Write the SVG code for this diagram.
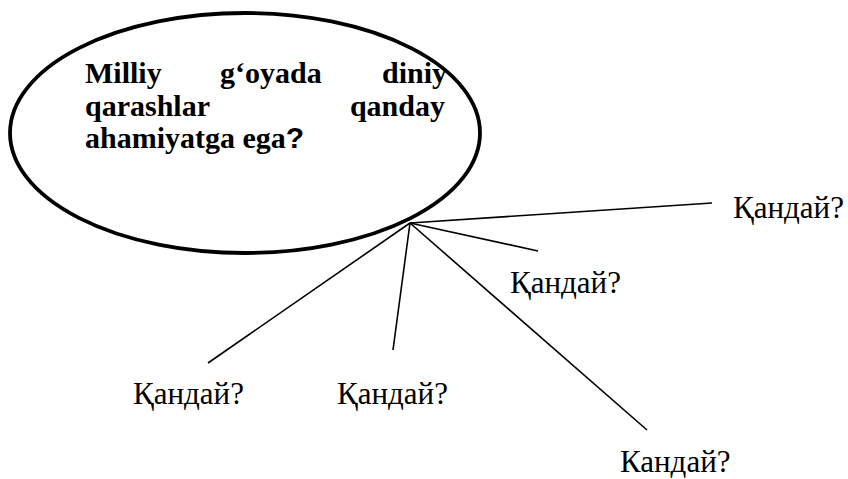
<svg xmlns="http://www.w3.org/2000/svg" width="848" height="479" viewBox="0 0 848 479">
  <style>
    .q { font-family: "Liberation Serif", "Times New Roman", serif; font-size: 31px; fill: #000; }
    .b { font-family: "Liberation Serif", "Times New Roman", serif; font-size: 30px; font-weight: bold; fill: #000; }
    .bs { font-family: "Liberation Sans", Arial, sans-serif; font-size: 30px; font-weight: bold; }
    .c { stroke: #000; stroke-width: 1.6; fill: none; }
  </style>
  <rect width="848" height="479" fill="#fff"/>
  <g id="central">
    <ellipse cx="245" cy="133" rx="235" ry="120" fill="none" stroke="#000" stroke-width="3.8"/>
    <text class="b" x="85" y="83">Milliy</text>
    <text class="b" x="220" y="83">g‘oyada</text>
    <text class="b" x="447" y="83" text-anchor="end">diniy</text>
    <text class="b" x="85" y="116">qarashlar</text>
    <text class="b" x="445" y="116" text-anchor="end">qanday</text>
    <text class="b" x="85" y="148">ahamiyatga ega<tspan class="bs">?</tspan></text>
  </g>
  <g id="connectors">
    <line class="c" x1="410" y1="223" x2="712" y2="203"/>
    <line class="c" x1="410" y1="223" x2="538" y2="251"/>
    <line class="c" x1="410" y1="223" x2="208" y2="363"/>
    <line class="c" x1="410" y1="223" x2="393" y2="350"/>
    <line class="c" x1="410" y1="223" x2="647" y2="430"/>
  </g>
  <g id="node-top-right"><text class="q" x="733" y="218">Қандай?</text></g>
  <g id="node-mid-right"><text class="q" x="510" y="293">Қандай?</text></g>
  <g id="node-bottom-left"><text class="q" x="133" y="404">Қандай?</text></g>
  <g id="node-bottom-mid"><text class="q" x="337" y="404">Қандай?</text></g>
  <g id="node-bottom-right"><text class="q" x="620" y="472">Кандай?</text></g>
</svg>
